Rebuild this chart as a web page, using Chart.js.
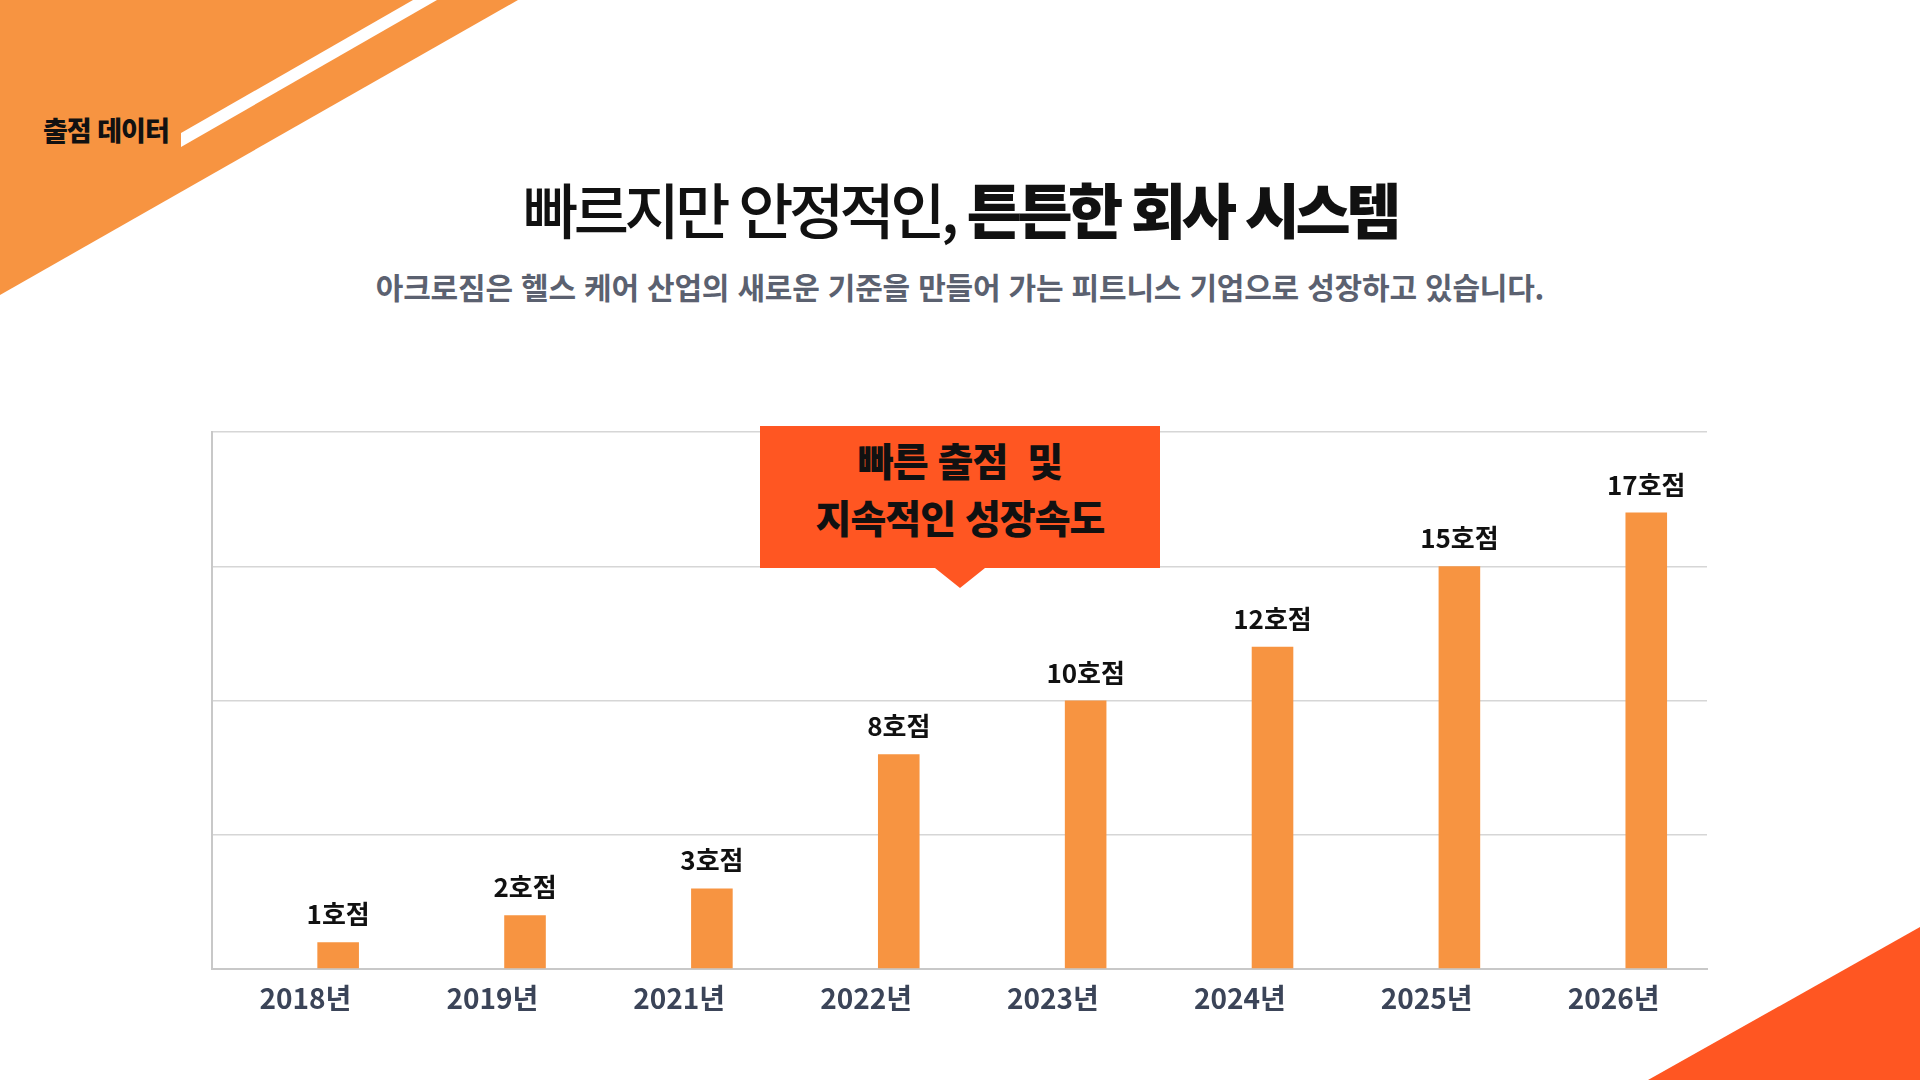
<!DOCTYPE html>
<html lang="ko">
<head>
<meta charset="utf-8">
<title>출점 데이터</title>
<script src="https://cdn.jsdelivr.net/npm/chart.js@4.4.1/dist/chart.umd.min.js"></script>
<style>
    html, body {
        margin: 0;
        padding: 0;
        width: 1920px;
        height: 1080px;
        overflow: hidden;
        background: #fff;
        font-family: "Noto Sans CJK KR", "Noto Sans", sans-serif;
    }
    .deco {
        position: absolute;
        left: 0;
        top: 0;
    }
    .tag {
        position: absolute;
        left: 43px;
        top: 110px;
        font-size: 27px;
        font-weight: 900;
        letter-spacing: -1px;
        line-height: 40px;
        color: #111;
    }
    .title {
        position: absolute;
        left: 0;
        width: 1920px;
        top: 172px;
        text-align: center;
        font-size: 60px;
        line-height: 72px;
        font-weight: 500;
        color: #111;
        letter-spacing: -4.5px;
    }
    .title b {
        font-weight: 900;
    }
    .subtitle {
        position: absolute;
        left: 0;
        width: 1920px;
        top: 266px;
        text-align: center;
        font-size: 30px;
        line-height: 40px;
        font-weight: 700;
        letter-spacing: -0.2px;
        color: #5b6170;
    }
    #chart-box {
        position: absolute;
        left: 200px;
        top: 420px;
        width: 1520px;
        height: 609px;
    }
    .callout {
        position: absolute;
        left: 760px;
        top: 426px;
        width: 400px;
        height: 142px;
        background: #ff5622;
        color: #111;
        text-align: center;
        font-size: 39px;
        font-weight: 900;
        letter-spacing: -1px;
        line-height: 57px;
        padding-top: 5px;
        box-sizing: border-box;
        white-space: pre;
    }
    .callout::after {
        content: "";
        position: absolute;
        left: 175px;
        top: 142px;
        border-left: 25px solid transparent;
        border-right: 25px solid transparent;
        border-top: 20px solid #ff5622;
    }
</style>
</head>
<body>
<svg class="deco" width="1920" height="1080">
    <polygon points="0,0 518,0 0,295" fill="#f79441" />
    <polygon points="413,0 437,0 181,147 181,133" fill="#fff" />
    <polygon points="1648,1080 1920,927 1920,1080" fill="#ff5622" />
</svg>
<div class="tag">출점 데이터</div>
<div class="title">빠르지만 안정적인, <b>튼튼한 회사 시스템</b></div>
<div class="subtitle">아크로짐은 헬스 케어 산업의 새로운 기준을 만들어 가는 피트니스 기업으로 성장하고 있습니다.</div>
<div id="chart-box"><canvas id="chart-stores"></canvas></div>
<div class="callout">빠른 출점  및
지속적인 성장속도</div>

<script>
const years = ["2018년", "2019년", "2021년", "2022년", "2023년", "2024년", "2025년", "2026년"];
const storeCounts = [1, 2, 3, 8, 10, 12, 15, 17];
const yMin = 0;
const yMax = 20;
const yStep = 5;
const labelSuffix = "호점";

// the bars sit right of the year label, so an empty group slot goes first
const barLabelPlugin = {
    id: "barLabel",
    afterDatasetsDraw(chart) {
        const ctx = chart.ctx;
        const meta = chart.getDatasetMeta(1);
        ctx.save();
        ctx.font = "bold 26px 'Noto Sans CJK KR'";
        ctx.fillStyle = "#111";
        ctx.textAlign = "center";
        ctx.textBaseline = "alphabetic";
        meta.data.forEach((bar, i) => {
            const value = chart.data.datasets[1].data[i];
            ctx.fillText(`${value}${labelSuffix}`, bar.x, bar.y - 18);
        });
        ctx.restore();
    },
};

new Chart(document.getElementById("chart-stores"), {
    type: "bar",
    data: {
        labels: years,
        datasets: [
            {
                label: "",
                data: [],
            },
            {
                label: "매장 수",
                data: storeCounts,
                backgroundColor: "#f79441",
                borderWidth: 0,
            },
        ],
    },
    options: {
        responsive: true,
        maintainAspectRatio: false,
        animation: false,
        categoryPercentage: 0.7,
        barPercentage: 0.636,
        layout: { padding: { left: 12, top: 12, right: 13, bottom: 0 } },
        plugins: {
            legend: { display: false },
            tooltip: { enabled: false },
        },
        scales: {
            x: {
                grid: { display: false, drawTicks: false },
                border: { display: true, color: "#c8c8c8", width: 2 },
                ticks: {
                    color: "#3b4458",
                    padding: 13,
                    font: { family: "'Noto Sans CJK KR'", size: 28, weight: "bold" },
                },
                afterFit: (scale) => {
                    scale.height = 60;
                },
            },
            y: {
                min: yMin,
                max: yMax,
                ticks: { display: false, stepSize: yStep },
                grid: { color: "#d6d6d6", lineWidth: 1.5, drawTicks: false },
                border: { display: true, color: "#c8c8c8", width: 2 },
                afterFit: (scale) => {
                    scale.width = 0;
                },
            },
        },
    },
    plugins: [barLabelPlugin],
});
</script>
</body>
</html>
